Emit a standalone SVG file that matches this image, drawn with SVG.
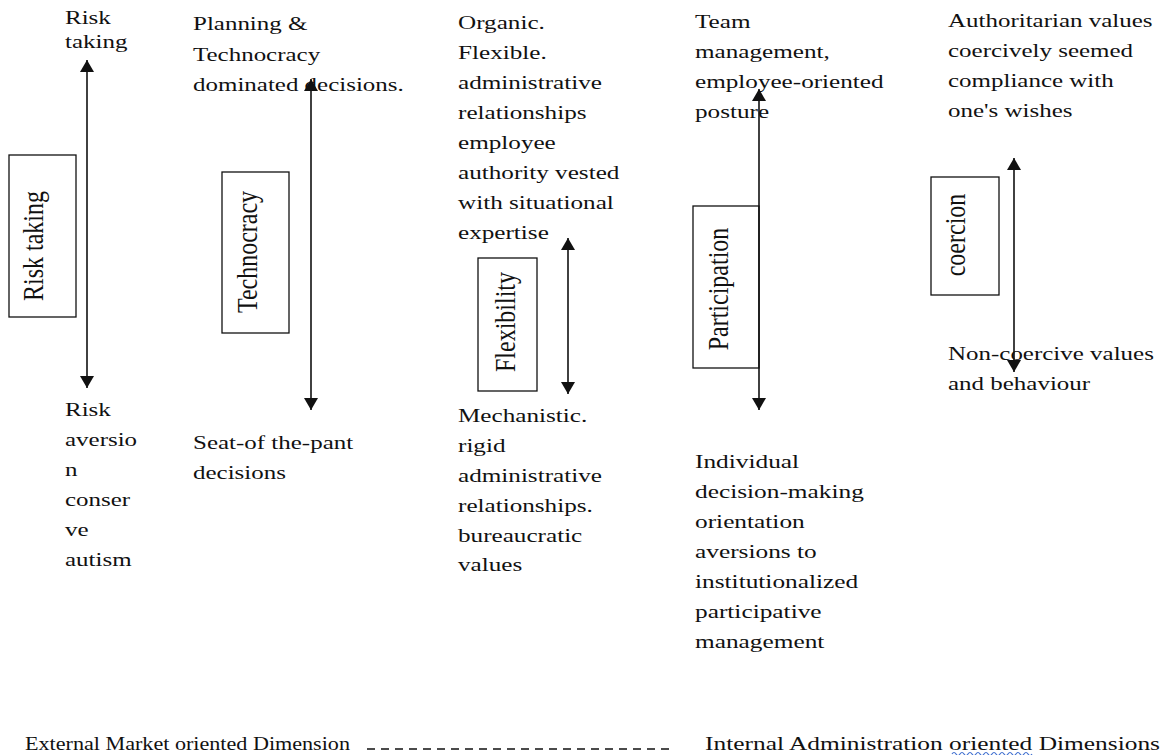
<svg xmlns="http://www.w3.org/2000/svg" width="1164" height="755" viewBox="0 0 1164 755">
  <style>
    .txt { font-family: "Liberation Serif", "Times New Roman", serif; font-size: 18.5px; fill: #111; }
    .lbl { font-family: "Liberation Serif", "Times New Roman", serif; font-size: 24px; fill: #111; text-anchor: middle; }
    .box { fill: #fff; stroke: #111; stroke-width: 1.3; }
    .axis { stroke: #111; stroke-width: 1.6; fill: none; marker-start: url(#head); marker-end: url(#head); }
    .dash { stroke: #111; stroke-width: 1.4; stroke-dasharray: 8 6; }
  </style>
  <defs>
    <marker id="head" markerUnits="userSpaceOnUse" markerWidth="12" markerHeight="14" refX="12" refY="7" orient="auto-start-reverse">
      <path d="M0,0 L12,7 L0,14 z" fill="#111"/>
    </marker>
  </defs>
  <rect width="1164" height="755" fill="#fff"/>

  <!-- dimension labels -->
  <g id="risk-taking">
    <rect class="box" x="9" y="155" width="67" height="162"/>
    <text class="lbl" transform="translate(43 246) rotate(-90) scale(1 1.2)">Risk taking</text>
  </g>
  <g id="technocracy">
    <rect class="box" x="222" y="172" width="67" height="161"/>
    <text class="lbl" transform="translate(257 252) rotate(-90) scale(1 1.2)">Technocracy</text>
  </g>
  <g id="flexibility">
    <rect class="box" x="478" y="258" width="59" height="133"/>
    <text class="lbl" transform="translate(515 322) rotate(-90) scale(1 1.2)">Flexibility</text>
  </g>
  <g id="participation">
    <rect class="box" x="693" y="206" width="66" height="162"/>
    <text class="lbl" transform="translate(728 289) rotate(-90) scale(1 1.2)">Participation</text>
  </g>
  <g id="coercion">
    <rect class="box" x="931" y="177" width="68" height="118"/>
    <text class="lbl" transform="translate(965 235) rotate(-90) scale(1 1.2)">coercion</text>
  </g>

  <!-- connectors: two-headed axes between the poles -->
  <g id="connectors">
    <line class="axis" x1="87" y1="60" x2="87" y2="388"/>
    <line class="axis" x1="311" y1="79" x2="311" y2="410"/>
    <line class="axis" x1="568" y1="238" x2="568" y2="394"/>
    <line class="axis" x1="759" y1="89" x2="759" y2="410"/>
    <line class="axis" x1="1014" y1="158" x2="1014" y2="372"/>
  </g>

  <!-- upper poles -->
  <g id="risk-high">
    <text class="txt" transform="translate(65 0) scale(1.35 1)"><tspan x="0" y="24">Risk</tspan><tspan x="0" y="48">taking</tspan></text>
  </g>
  <g id="technocracy-high">
    <text class="txt" transform="translate(193 0) scale(1.35 1)"><tspan x="0" y="30">Planning &amp;</tspan><tspan x="0" y="61">Technocracy</tspan><tspan x="0" y="91">dominated decisions.</tspan></text>
  </g>
  <g id="flexibility-high">
    <text class="txt" transform="translate(458 0) scale(1.36 1)"><tspan x="0" y="29">Organic.</tspan><tspan x="0" y="59">Flexible.</tspan><tspan x="0" y="89">administrative</tspan><tspan x="0" y="119">relationships</tspan><tspan x="0" y="149">employee</tspan><tspan x="0" y="179">authority vested</tspan><tspan x="0" y="209">with situational</tspan><tspan x="0" y="239">expertise</tspan></text>
  </g>
  <g id="participation-high">
    <text class="txt" transform="translate(695 0) scale(1.36 1)"><tspan x="0" y="28">Team</tspan><tspan x="0" y="58">management,</tspan><tspan x="0" y="88">employee-oriented</tspan><tspan x="0" y="118">posture</tspan></text>
  </g>
  <g id="coercion-high">
    <text class="txt" transform="translate(948 0) scale(1.35 1)"><tspan x="0" y="27">Authoritarian values</tspan><tspan x="0" y="57">coercively seemed</tspan><tspan x="0" y="87">compliance with</tspan><tspan x="0" y="117">one's wishes</tspan></text>
  </g>

  <!-- lower poles -->
  <g id="risk-low">
    <text class="txt" transform="translate(65 0) scale(1.35 1)"><tspan x="0" y="416">Risk</tspan><tspan x="0" y="446">aversio</tspan><tspan x="0" y="476">n</tspan><tspan x="0" y="506">conser</tspan><tspan x="0" y="536">ve</tspan><tspan x="0" y="566">autism</tspan></text>
  </g>
  <g id="technocracy-low">
    <text class="txt" transform="translate(193 0) scale(1.35 1)"><tspan x="0" y="449">Seat-of the-pant</tspan><tspan x="0" y="479">decisions</tspan></text>
  </g>
  <g id="flexibility-low">
    <text class="txt" transform="translate(458 0) scale(1.36 1)"><tspan x="0" y="422">Mechanistic.</tspan><tspan x="0" y="452">rigid</tspan><tspan x="0" y="482">administrative</tspan><tspan x="0" y="512">relationships.</tspan><tspan x="0" y="542">bureaucratic</tspan><tspan x="0" y="571">values</tspan></text>
  </g>
  <g id="participation-low">
    <text class="txt" transform="translate(695 0) scale(1.37 1)"><tspan x="0" y="468">Individual</tspan><tspan x="0" y="498">decision-making</tspan><tspan x="0" y="528">orientation</tspan><tspan x="0" y="558">aversions to</tspan><tspan x="0" y="588">institutionalized</tspan><tspan x="0" y="618">participative</tspan><tspan x="0" y="648">management</tspan></text>
  </g>
  <g id="coercion-low">
    <text class="txt" transform="translate(948 0) scale(1.35 1)"><tspan x="0" y="360">Non-coercive values</tspan><tspan x="0" y="390">and behaviour</tspan></text>
  </g>

  <!-- footer: external vs internal orientation -->
  <g id="footer">
    <text class="txt" x="25" y="750" textLength="325" lengthAdjust="spacingAndGlyphs">External Market oriented Dimension</text>
    <line class="dash" x1="367" y1="749" x2="672" y2="749"/>
    <text class="txt" x="705" y="750" textLength="455" lengthAdjust="spacingAndGlyphs">Internal Administration oriented Dimensions</text>
    <path d="M952,754 q2,-3 4,0 t4,0 t4,0 t4,0 t4,0 t4,0 t4,0 t4,0 t4,0 t4,0 t4,0 t4,0 t4,0 t4,0 t4,0 t4,0 t4,0 t4,0 t4,0 t4,0" fill="none" stroke="#3f6fd0" stroke-width="1.2"/>
  </g>
</svg>
